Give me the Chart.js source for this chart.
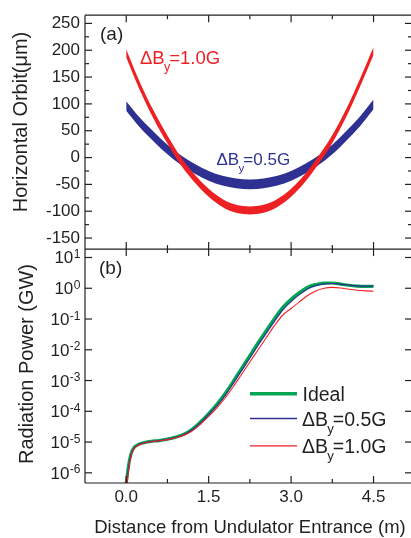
<!DOCTYPE html>
<html>
<head>
<meta charset="utf-8">
<script src="https://cdn.jsdelivr.net/npm/chart.js@4.4.1/dist/chart.umd.min.js"></script>
<style>
  html, body { margin: 0; padding: 0; background: #fff; overflow: hidden; }
  #wrap { width: 412px; height: 538px; }
</style>
</head>
<body>
<div id="wrap"><canvas id="c" width="412" height="538"></canvas></div>
<script>
// ---- (a) horizontal orbit band, upper/lower envelope of the wiggling trajectory (µm)
const orbitZ = [0, 0.25, 0.5, 0.75, 1.0, 1.25, 1.5, 1.75, 2.0, 2.25, 2.5, 2.75, 3.0, 3.25, 3.5, 3.75, 4.0, 4.25, 4.5];
const orbit10Upper = [202, 140, 87, 41, 0, -32, -58, -77, -88, -91, -88, -77, -58, -31, 3, 42, 90, 146, 206];
const orbit10Lower = [187, 125, 72, 26, -15, -47, -73, -92, -103, -106, -103, -92, -73, -46, -12, 27, 75, 131, 191];
const orbit05Upper = [105, 74, 48, 24, 4, -12, -25, -34, -39, -41, -39, -34, -25, -12, 4, 24, 49, 76, 108];
const orbit05Lower = [87, 56, 30, 6, -14, -30, -43, -52, -57, -59, -57, -52, -43, -30, -14, 6, 31, 58, 90];

// ---- (b) radiation power (GW)
const powerZ = [0, 0.03, 0.06, 0.1, 0.15, 0.22, 0.3, 0.45, 0.6, 0.75, 0.9, 1.05, 1.2, 1.35, 1.5, 1.65, 1.8, 1.95,
                2.1, 2.25, 2.4, 2.55, 2.7, 2.85, 3.0, 3.15, 3.3, 3.45, 3.6, 3.75, 3.9, 4.05, 4.2, 4.35, 4.5];
const powerIdeal = [4.6e-7, 1.2e-6, 2.6e-6, 4.8e-6, 6.9e-6, 8.3e-6, 9.3e-6, 1.05e-5, 1.12e-5, 1.25e-5, 1.45e-5, 1.8e-5,
                    2.6e-5, 4.5e-5, 8.5e-5, 1.7e-4, 3.8e-4, 9.5e-4, 2.5e-3, 6.5e-3, 1.7e-2, 4.3e-2, 0.105, 0.24,
                    0.44, 0.72, 1.08, 1.32, 1.47, 1.48, 1.36, 1.25, 1.18, 1.15, 1.16];
const power05 = [3.5e-7, 1.0e-6, 2.3e-6, 4.5e-6, 6.6e-6, 8.1e-6, 9.2e-6, 1.04e-5, 1.11e-5, 1.23e-5, 1.42e-5, 1.75e-5,
                 2.5e-5, 4.2e-5, 7.8e-5, 1.5e-4, 3.3e-4, 8.2e-4, 2.1e-3, 5.4e-3, 1.4e-2, 3.5e-2, 8.6e-2, 0.2,
                 0.37, 0.62, 0.95, 1.22, 1.38, 1.43, 1.36, 1.26, 1.2, 1.18, 1.18];
const power10 = [2e-7, 8e-7, 2.0e-6, 4.2e-6, 6.3e-6, 7.9e-6, 9.0e-6, 1.02e-5, 1.1e-5, 1.2e-5, 1.38e-5, 1.68e-5,
                 2.3e-5, 3.8e-5, 6.8e-5, 1.3e-4, 2.7e-4, 6.4e-4, 1.6e-3, 4.0e-3, 1.0e-2, 2.5e-2, 6.2e-2, 0.135,
                 0.22, 0.36, 0.58, 0.82, 1.0, 1.07, 1.02, 0.93, 0.86, 0.82, 0.80];

// ---- ticks
const distTicks = [0, 1.5, 3.0, 4.5];
const distMinorTicks = [0.75, 2.25, 3.75];
const orbitTicks = [-150, -100, -50, 0, 50, 100, 150, 200, 250];
const orbitMinorTicks = [-125, -75, -25, 25, 75, 125, 175, 225];
const powerExponents = [-6, -5, -4, -3, -2, -1, 0, 1];

const legendLabels = ['Ideal', '=0.5G', '=1.0G'];

const INK = '#231f20';
const RED = '#ed2024';
const BLUE = '#2e3192';
const GREEN = '#00a651';
const FONT = "'Liberation Sans', Arial, Helvetica, sans-serif";

const pairs = (xs, ys) => xs.map((x, i) => ({ x, y: ys[i] }));

function subLabel(ctx, x, y, size, tail, color) {
  ctx.fillStyle = color;
  ctx.textAlign = 'left';
  ctx.textBaseline = 'alphabetic';
  ctx.font = `${size}px ${FONT}`;
  ctx.fillText('\u0394B', x, y);
  x += ctx.measureText('\u0394B').width;
  const sub = size * 0.68;
  ctx.font = `${sub}px ${FONT}`;
  ctx.fillText('y', x - size * 0.04, y + size * 0.39);
  x += ctx.measureText('y').width * 0.72;
  ctx.font = `${size}px ${FONT}`;
  ctx.fillText(tail, x, y);
}

function vTitle(ctx, text, bx, cy, size) {
  ctx.save();
  ctx.translate(bx, cy);
  ctx.rotate(-Math.PI / 2);
  ctx.font = `${size}px ${FONT}`;
  ctx.fillStyle = INK;
  ctx.textAlign = 'center';
  ctx.textBaseline = 'alphabetic';
  ctx.fillText(text, 0, 0);
  ctx.restore();
}

const framePlugin = {
  id: 'frame',
  afterDraw(chart) {
    const { ctx, chartArea: a, scales } = chart;
    const sx = scales.x, so = scales.yOrbit, sp = scales.yPower;
    const mid = so.bottom;
    const seg = (x1, y1, x2, y2) => { ctx.beginPath(); ctx.moveTo(x1, y1); ctx.lineTo(x2, y2); ctx.stroke(); };

    ctx.save();
    ctx.strokeStyle = INK;
    ctx.lineWidth = 1.2;
    seg(a.left, a.top, a.right, a.top);
    seg(a.left, mid, a.right, mid);
    seg(a.left, a.bottom, a.right, a.bottom);
    seg(a.left, a.top, a.left, a.bottom);
    seg(a.right, a.top, a.right, a.bottom);

    // distance ticks on every horizontal edge, pointing into each panel
    const xTick = (v, len) => {
      const px = sx.getPixelForValue(v);
      seg(px, a.top, px, a.top + len);
      seg(px, mid, px, mid - len);
      seg(px, mid, px, mid + len);
      seg(px, a.bottom, px, a.bottom - len);
    };
    distTicks.forEach(v => xTick(v, 7));
    distMinorTicks.forEach(v => xTick(v, 4));

    const yTick = (py, len) => {
      seg(a.left, py, a.left + len, py);
      seg(a.right, py, a.right - len, py);
    };
    orbitTicks.forEach(v => yTick(so.getPixelForValue(v), 7));
    orbitMinorTicks.forEach(v => yTick(so.getPixelForValue(v), 4));
    powerExponents.forEach(e => yTick(sp.getPixelForValue(Math.pow(10, e)), 7));

    // power tick labels 10^n
    ctx.fillStyle = INK;
    ctx.textBaseline = 'alphabetic';
    powerExponents.forEach(e => {
      const py = sp.getPixelForValue(Math.pow(10, e));
      const exp = String(e);
      ctx.font = `12px ${FONT}`;
      ctx.textAlign = 'right';
      ctx.fillText(exp, 80.5, py + 0.5);
      const w = ctx.measureText(exp).width;
      ctx.font = `17px ${FONT}`;
      ctx.fillText('10', 80 - w, py + 6);
    });

    // axis titles
    vTitle(ctx, 'Horizontal Orbit(\u03bcm)', 27, 122, 20);
    vTitle(ctx, 'Radiation Power (GW)', 33, 364, 20);
    ctx.font = `18.5px ${FONT}`;
    ctx.fillStyle = INK;
    ctx.textAlign = 'center';
    ctx.textBaseline = 'alphabetic';
    ctx.fillText('Distance from Undulator Entrance (m)', 250, 533);

    // panel tags
    ctx.textAlign = 'left';
    ctx.font = `19px ${FONT}`;
    ctx.fillText('(a)', 100, 40);
    ctx.fillText('(b)', 99, 274);

    // curve annotations in (a)
    subLabel(ctx, 140, 63.5, 18.5, '=1.0G', RED);
    subLabel(ctx, 216.5, 165, 17, '=0.5G', BLUE);

    // legend in (b)
    const rows = [
      { y: 393.7, color: GREEN, w: 3.5 },
      { y: 418.5, color: BLUE, w: 1.3 },
      { y: 445.8, color: RED, w: 1.3 }
    ];
    rows.forEach((r, i) => {
      ctx.strokeStyle = r.color;
      ctx.lineWidth = r.w;
      seg(250, r.y, 297, r.y);
      if (i === 0) {
        ctx.font = `19.5px ${FONT}`;
        ctx.fillStyle = INK;
        ctx.textAlign = 'left';
        ctx.fillText(legendLabels[0], 302.5, r.y + 7);
      } else {
        subLabel(ctx, 302, r.y + 7, 19.5, legendLabels[i], INK);
      }
    });
    ctx.restore();
  }
};

new Chart(document.getElementById('c'), {
  type: 'line',
  data: {
    datasets: [
      { data: pairs(orbitZ, orbit05Lower), yAxisID: 'yOrbit', borderWidth: 0, fill: false, order: 3 },
      { data: pairs(orbitZ, orbit05Upper), yAxisID: 'yOrbit', borderWidth: 0, fill: '-1', backgroundColor: BLUE, order: 3 },
      { data: pairs(orbitZ, orbit10Lower), yAxisID: 'yOrbit', borderWidth: 0, fill: false, order: 2 },
      { data: pairs(orbitZ, orbit10Upper), yAxisID: 'yOrbit', borderWidth: 0, fill: '-1', backgroundColor: RED, order: 2 },
      { label: 'Ideal', data: pairs(powerZ, powerIdeal), yAxisID: 'yPower', borderColor: GREEN, borderWidth: 3.2, fill: false, order: 6 },
      { label: '0.5G', data: pairs(powerZ, power05), yAxisID: 'yPower', borderColor: BLUE, borderWidth: 1.2, fill: false, order: 5 },
      { label: '1.0G', data: pairs(powerZ, power10), yAxisID: 'yPower', borderColor: RED, borderWidth: 1.1, fill: false, order: 4 }
    ]
  },
  options: {
    responsive: false,
    animation: false,
    devicePixelRatio: 1,
    layout: { padding: { top: 10, left: 0, right: 0, bottom: 0 } },
    elements: {
      point: { radius: 0 },
      line: { cubicInterpolationMode: 'monotone' }
    },
    plugins: { legend: { display: false }, tooltip: { enabled: false } },
    scales: {
      x: {
        type: 'linear',
        min: -0.75,
        max: 5.2,
        grid: { display: false, drawTicks: false },
        border: { display: false },
        afterBuildTicks: s => { s.ticks = distTicks.map(v => ({ value: v })); },
        ticks: {
          callback: v => Number(v).toFixed(1),
          font: { family: FONT, size: 17 },
          color: INK,
          padding: 4,
          maxRotation: 0,
          autoSkip: false
        },
        afterFit: s => { s.height = 55; }
      },
      yPower: {
        type: 'logarithmic',
        position: 'left',
        stack: 'panels',
        stackWeight: 1,
        min: Math.pow(10, -6.331),
        max: Math.pow(10, 1.273),
        grid: { display: false, drawTicks: false },
        border: { display: false },
        ticks: { display: false },
        afterFit: s => { s.width = 85; }
      },
      yOrbit: {
        type: 'linear',
        position: 'left',
        stack: 'panels',
        stackWeight: 1,
        min: -170.6,
        max: 265.3,
        grid: { display: false, drawTicks: false },
        border: { display: false },
        afterBuildTicks: s => { s.ticks = orbitTicks.map(v => ({ value: v })); },
        ticks: {
          callback: v => String(v),
          font: { family: FONT, size: 17 },
          color: INK,
          padding: 5,
          autoSkip: false
        },
        afterFit: s => { s.width = 85; }
      }
    }
  },
  plugins: [framePlugin]
});
</script>
</body>
</html>
